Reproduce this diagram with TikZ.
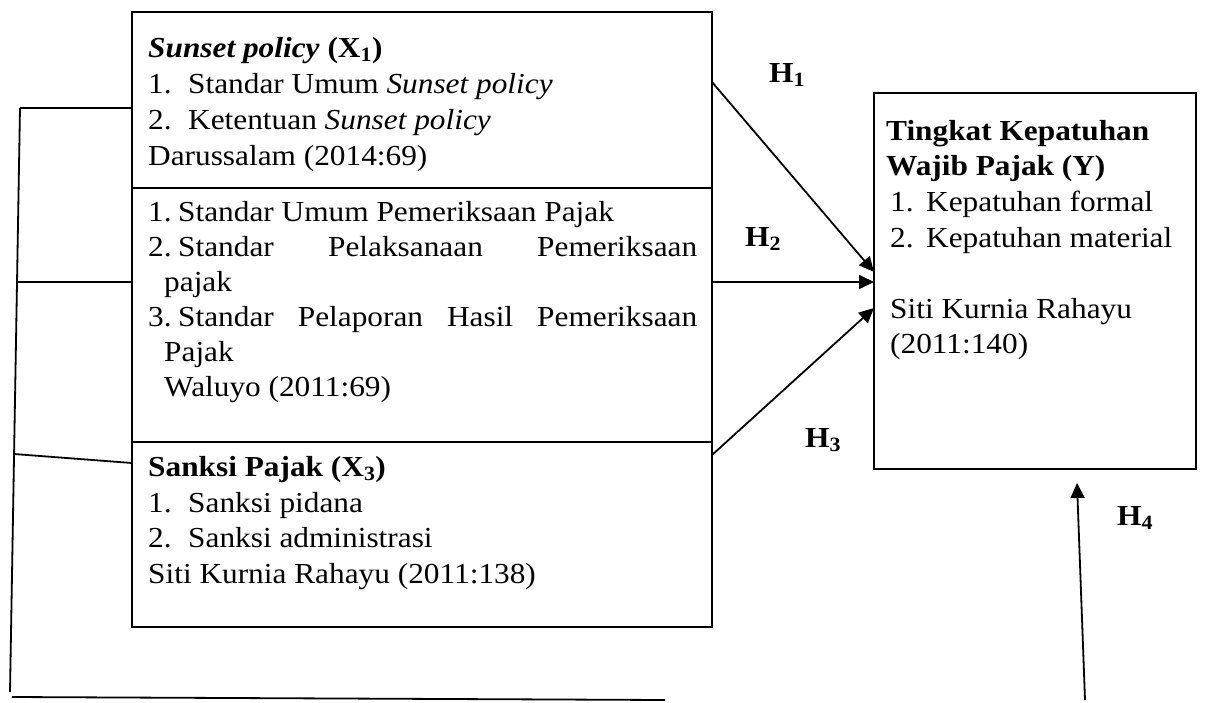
\documentclass[tikz,border=0pt]{standalone}
\usepackage{fontspec}
\setmainfont{Liberation Serif}[FakeStretch=1.08]
\usetikzlibrary{arrows.meta}
\begin{document}
\begin{tikzpicture}[x=1pt,y=-1pt,
  box/.style={draw,line width=1.8pt,inner sep=0pt},
  txt/.style={anchor=base west,inner sep=0pt,font=\fontsize{29}{34}\selectfont},
  hlab/.style={anchor=base west,inner sep=0pt,font=\fontsize{29}{34}\selectfont\bfseries},
  conn/.style={line width=1.8pt},
  arr/.style={line width=1.8pt,-{Triangle[length=15pt,width=14pt]}}]
\useasboundingbox (0,0) rectangle (1216,702);
% boxes
\node[box,minimum width=580pt,minimum height=176pt] (s1) at (422,100) {};
\node[box,minimum width=580pt,minimum height=254pt] (s2) at (422,315) {};
\node[box,minimum width=580pt,minimum height=185pt] (s3) at (422,534.5) {};
\node[box,minimum width=322pt,minimum height=376pt] (sy) at (1035,281) {};
% section 1
\node[txt] (t11) at (148,57) {\textbf{\textit{Sunset policy}} \textbf{(X\textsubscript{1})}};
\node[txt] (t12) at (148,93) {\makebox[40pt][l]{1.}Standar Umum \textit{Sunset policy}};
\node[txt] (t13) at (148,129) {\makebox[40pt][l]{2.}Ketentuan \textit{Sunset policy}};
\node[txt] (t14) at (148,165) {Darussalam (2014:69)};
% section 2
\node[txt] (t21) at (148,221) {\makebox[30pt][l]{1.}Standar Umum Pemeriksaan Pajak};
\node[txt] (t22) at (148,256) {\hbox to 549pt{\makebox[30pt][l]{2.}Standar\hfill Pelaksanaan\hfill Pemeriksaan}};
\node[txt] (t23) at (164,291) {pajak};
\node[txt] (t24) at (148,326) {\hbox to 549pt{\makebox[30pt][l]{3.}Standar\hfill Pelaporan\hfill Hasil\hfill Pemeriksaan}};
\node[txt] (t25) at (164,361) {Pajak};
\node[txt] (t26) at (164,396) {Waluyo (2011:69)};
% section 3
\node[txt] (t31) at (148,476) {\textbf{Sanksi Pajak (X\textsubscript{3})}};
\node[txt] (t32) at (148,512) {\makebox[40pt][l]{1.}Sanksi pidana};
\node[txt] (t33) at (148,547) {\makebox[40pt][l]{2.}Sanksi administrasi};
\node[txt] (t34) at (148,583) {Siti Kurnia Rahayu (2011:138)};
% right box
\node[txt] (y1) at (886,140) {\textbf{Tingkat Kepatuhan}};
\node[txt] (y2) at (886,175) {\textbf{Wajib Pajak (Y)}};
\node[txt] (y3) at (890,211) {\makebox[36pt][l]{1.}Kepatuhan formal};
\node[txt] (y4) at (890,247) {\makebox[36pt][l]{2.}Kepatuhan material};
\node[txt] (y5) at (890,318) {Siti Kurnia Rahayu};
\node[txt] (y6) at (890,353) {(2011:140)};
% labels
\node[hlab] (h1) at (769,82) {H\textsubscript{1}};
\node[hlab] (h2) at (745,246) {H\textsubscript{2}};
\node[hlab] (h3) at (805,447) {H\textsubscript{3}};
\node[hlab] (h4) at (1117,525) {H\textsubscript{4}};
% connector coordinates
\coordinate (L1) at (20,108);
\coordinate (L2) at (17,282);
\coordinate (L3) at (14,454);
\coordinate (L3e) at (132,463);
\coordinate (L4) at (10,692);
\coordinate (B1) at (12,697);
\coordinate (B2) at (665,700);
\coordinate (a1s) at (712,82);
\coordinate (a1e) at (874,272);
\coordinate (a2s) at (712,282);
\coordinate (a2e) at (874,282);
\coordinate (a3s) at (712,455);
\coordinate (a3e) at (874,308);
\coordinate (a4s) at (1085,700);
\coordinate (a4e) at (1077,483);
% left lines
\draw[conn] (L1) -- (s1.west |- L1);
\draw[conn] (L1) -- (L4);
\draw[conn] (L2) -- (s2.west |- L2);
\draw[conn] (L3) -- (L3e);
\draw[conn] (B1) -- (B2);
% arrows
\draw[arr] (a1s) -- (a1e);
\draw[arr] (a2s) -- (a2e);
\draw[arr] (a3s) -- (a3e);
\draw[arr] (a4s) -- (a4e);
\end{tikzpicture}
\end{document}
